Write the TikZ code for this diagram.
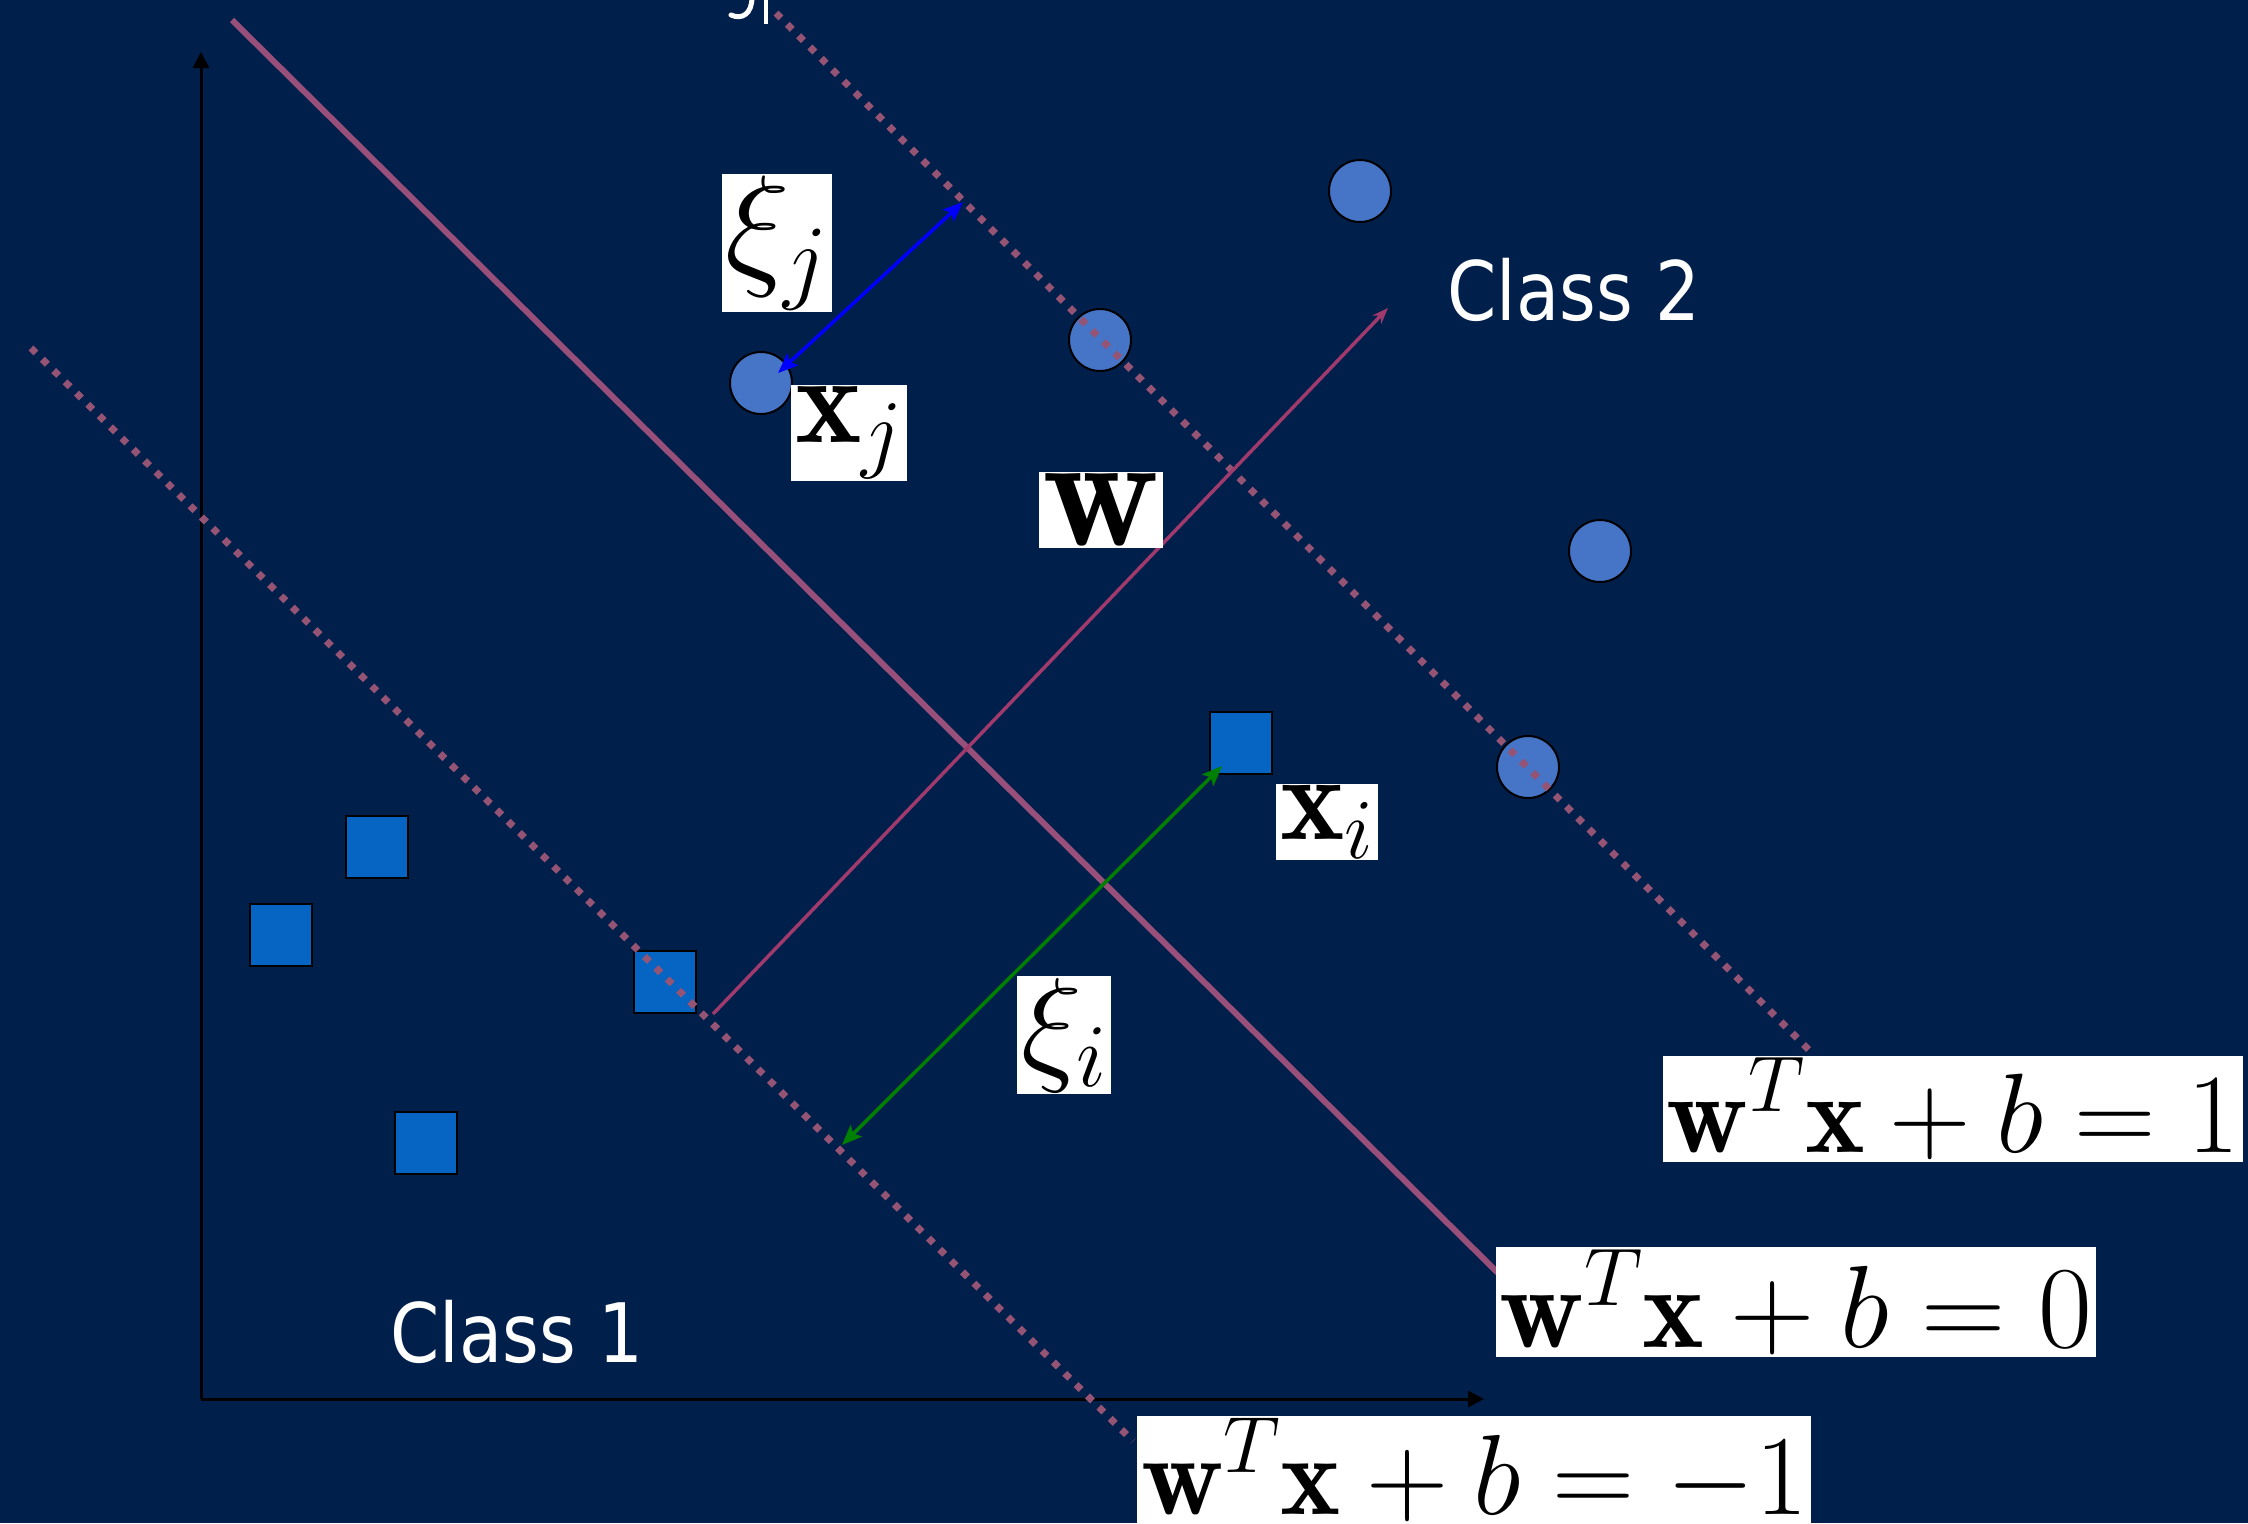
\documentclass[tikz,border=0pt]{standalone}
\usepackage{fix-cm}
\usepackage{amsmath}
\usepackage{amssymb}
\usepackage{fontspec}
\usepackage{xcolor}
\usepackage{tikz}
\usetikzlibrary{arrows.meta,positioning}

\newfontfamily\classfont[FakeStretch=0.86]{DejaVu Sans}
\newcommand{\labsize}[1]{\fontsize{#1}{#1}\selectfont}
\definecolor{bgblue}{RGB}{0,31,75}
\definecolor{circfill}{RGB}{70,116,198}
\definecolor{sqfill}{RGB}{6,100,194}
\definecolor{planecol}{RGB}{152,80,122}
\definecolor{dotcol}{RGB}{150,84,116}
\definecolor{wcol}{RGB}{160,58,108}

\begin{document}
\begin{tikzpicture}[x=1pt, y=-1pt,
    pt2/.style={circle, draw=black, line width=2pt, fill=circfill, minimum size=62pt, inner sep=0pt},
    pt1/.style={rectangle, draw=black, line width=2pt, fill=sqfill, minimum size=62pt, inner sep=0pt},
    eqn/.style={fill=white, text=black, inner xsep=4pt, inner ysep=2pt},
    margin/.style={draw=dotcol, line width=7pt, dash pattern=on 7pt off 9pt},
    axis/.style={draw=black, line width=3pt, -{Triangle[width=16pt,length=16pt]}},
    slack/.style={line width=3.5pt, {Stealth[length=20pt,width=16pt,inset=4pt]}-{Stealth[length=20pt,width=16pt,inset=4pt]}},
    cls/.style={text=white, inner sep=0pt, anchor=base west, font=\classfont\labsize{82}}]

  \fill[bgblue] (0,0) rectangle (2248,1523);
  \useasboundingbox (0,0) rectangle (2248,1523);

  % axes
  \coordinate (O) at (201,1399);
  \coordinate (ytop) at (201,52);
  \coordinate (xend) at (1484,1399);
  \draw[axis] (O) -- (ytop);
  \draw[axis] (O) -- (xend);

  % class 2
  \node[pt2] (c1) at (1360,191) {};
  \node[pt2] (c2) at (1100,340) {};
  \node[pt2] (c3) at (761,383) {};
  \node[pt2] (c4) at (1600,551) {};
  \node[pt2] (c5) at (1528,767) {};

  % class 1
  \node[pt1] (s1) at (377,847) {};
  \node[pt1] (s2) at (281,935) {};
  \node[pt1] (s3) at (665,982) {};
  \node[pt1] (s4) at (426,1143) {};
  \node[pt1] (s5) at (1241,743) {};

  % hyperplanes
  \coordinate (h0a) at (232,20);
  \coordinate (h0b) at (1498,1273);
  \coordinate (hpa) at (776,13);
  \coordinate (hpb) at (1813,1054);
  \coordinate (hma) at (31,348);
  \coordinate (hmb) at (1133,1441);
  \draw[planecol, line width=6pt] (h0a) -- (h0b);
  \draw[margin] (hpa) -- (hpb);
  \draw[margin] (hma) -- (hmb);

  % normal vector
  \coordinate (wfoot) at (713,1014);
  \coordinate (whead) at (1388,308);
  \draw[wcol, line width=3.5pt, -{Stealth[length=16pt,width=12pt]}] (wfoot) -- (whead);

  % slack arrows
  \coordinate (jtip) at (778,373);
  \coordinate (jedge) at (963,202);
  \coordinate (itip) at (1222,766);
  \coordinate (iedge) at (842,1145);
  \draw[slack, blue] (jtip) -- (jedge);
  \draw[slack, green!50!black] (iedge) -- (itip);

  % cut-off text at the top
  \draw[white, line width=5pt, line cap=round] (752,-3) .. controls (752,14) and (742,20) .. (731,15);
  \draw[white, line width=4.5pt] (766,-3) -- (766,24);

  % labels
  \node[eqn, font=\labsize{136}] (xij) at (777,243) {$\xi_j$};
  \node[eqn, font=\labsize{126}] (xj) at (849,433) {$\mathbf{x}_j$};
  \node[eqn, font=\labsize{162}] (wlab) at (1101,510) {$\mathbf{w}$};
  \node[eqn, font=\labsize{122}] (xi) at (1327,822) {$\mathbf{x}_i$};
  \node[eqn, font=\labsize{128}] (xii) at (1064,1035) {$\xi_i$};
  \node[eqn, font=\labsize{113}] (eqp) at (1953,1109) {$\mathbf{w}^T\mathbf{x}+b=1$};
  \node[eqn, font=\labsize{117}] (eqz) at (1796,1302) {$\mathbf{w}^T\mathbf{x}+b=0$};
  \node[eqn, font=\labsize{114}, anchor=north west] (eqm) at (1137,1416) {$\mathbf{w}^T\mathbf{x}+b=-1$};

  \node[cls] (cl2) at (1447,320) {Class 2};
  \node[cls] (cl1) at (390,1362) {Class 1};
\end{tikzpicture}
\end{document}
